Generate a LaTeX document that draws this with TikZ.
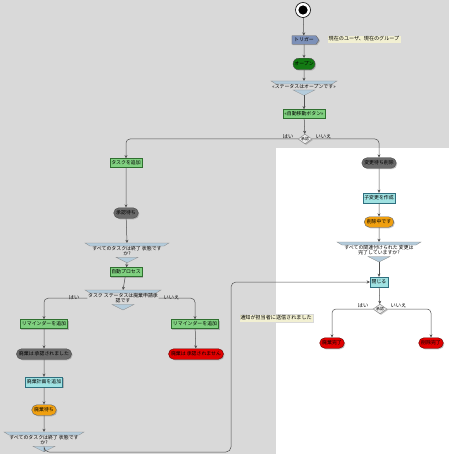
\documentclass[tikz,border=0pt]{standalone}
\usepackage{fontspec}
\setmainfont{Noto Sans CJK JP}
\usetikzlibrary{shapes.geometric,shapes.misc,shapes.symbols,shadows,arrows.meta,calc}
\definecolor{bggray}{HTML}{D9D9D9}
\definecolor{lnclr}{HTML}{505050}
\definecolor{grfill}{HTML}{80D080}
\definecolor{grline}{HTML}{2F6F2F}
\definecolor{cyfill}{HTML}{A0E2E2}
\definecolor{cyline}{HTML}{2F6F7F}
\definecolor{gyfill}{HTML}{6A6A6A}
\definecolor{orfill}{HTML}{F0A010}
\definecolor{rdfill}{HTML}{E00000}
\definecolor{dgfill}{HTML}{137A13}
\definecolor{mgfill}{HTML}{B4CCDC}
\definecolor{notefill}{HTML}{F2F0D2}
\definecolor{sigfill}{HTML}{7C90B8}
\tikzset{
  every node/.style={font=\fontsize{4.9}{5.4}\selectfont},
  shad/.style={drop shadow={shadow xshift=1pt,shadow yshift=-1pt,opacity=.45}},
  greenbox/.style={rectangle,fill=grfill,draw=grline,line width=.4pt,minimum height=9pt,inner sep=1.5pt,shad},
  cyanbox/.style={rectangle,fill=cyfill,draw=cyline,line width=.4pt,minimum height=10pt,inner sep=1.5pt,shad},
  rnd/.style={rounded rectangle,line width=.4pt,minimum height=10.5pt,inner sep=2pt,shad},
  grayrnd/.style={rnd,fill=gyfill,draw=black!70},
  orangernd/.style={rnd,fill=orfill,draw=black!60},
  redrnd/.style={rnd,fill=rdfill,draw=red!40!black},
  dgrnd/.style={rnd,fill=dgfill,draw=black!70,minimum width=26pt,minimum height=11.5pt},
  decis/.style={diamond,fill=white!92!black,draw=black!50,line width=.4pt,inner sep=0.3pt,aspect=1.4,font=\fontsize{3.8}{4}\selectfont,shad},
  mgtext/.style={align=center,inner sep=0.6pt},
  notebox/.style={rectangle,fill=notefill,draw=black!15,line width=.3pt,inner sep=1.6pt,font=\fontsize{5.1}{5.5}\selectfont},
  conn/.style={draw=lnclr,line width=.5pt,-{Stealth[length=3.2pt,width=3pt]}},
  lbl/.style={inner sep=0.5pt,font=\fontsize{5.2}{5.2}\selectfont}
}
\newcommand{\mergebox}[5]{%
  \fill[mgfill,draw=black!45,line width=.3pt] (#2-#4,#3) -- (#2+#4,#3) -- (#2+#4-5,#3+3) -- (#2-#4+5,#3+3) -- cycle;
  \node[mgtext,anchor=north] (#1) at (#2,#3+2.5) {#5};
  \fill[mgfill,draw=black!45,line width=.3pt] ($(#1.south)+(-11,0.5)$) -- ($(#1.south)+(11,0.5)$) -- ($(#1.south)+(0,6)$) -- cycle;
  \coordinate (#1-top) at (#2,#3);
  \coordinate (#1-bot) at ($(#1.south)+(0,6)$);
}
\begin{document}
\begin{tikzpicture}[x=1pt,y=-1pt]
\useasboundingbox (0,0) rectangle (449,454);
\fill[bggray] (0,0) rectangle (449,454);
\fill[white] (276,148) rectangle (449,454);

% start
\node[circle,draw=black,fill=white,line width=.6pt,minimum size=15pt,inner sep=0] (start) at (303,10) {};
\fill[black] (start.center) circle (4.6pt);

\node[signal,signal to=east,signal pointer angle=110,fill=sigfill,draw=black!60,line width=.4pt,minimum width=27pt,minimum height=8.5pt,inner sep=1pt,shad] (trig) at (304,40) {トリガー};
\node[notebox] (note1) at (364,39) {現在のユーザ、現在のグループ};
\node[dgrnd] (open) at (304,64) {オープン};
\mergebox{mg1}{304}{81}{33}{«ステータスはオープンです»}
\node[greenbox] (auto) at (304,114) {«自動移動ボタン»};
\node[decis] (dia1) at (305,139) {承認};
\node[lbl,anchor=south east] (yes1) at (294,139) {はい};
\node[lbl,anchor=south west] (no1) at (315,139) {いいえ};

% left column
\node[greenbox] (addtask) at (126,163) {タスクを追加};
\node[grayrnd] (wait1) at (126,213) {承認待ち};
\mergebox{mg2}{127}{243}{42}{すべてのタスクは終了 状態です\\か?}
\node[greenbox] (autop) at (126,272) {自動プロセス};
\mergebox{mg3}{123}{290}{38}{タスク ステータスは廃棄申請承\\認です}
\node[lbl,anchor=south east] (yes2) at (80,300) {はい};
\node[lbl,anchor=south west] (no2) at (163,300) {いいえ};
\node[greenbox] (rem1) at (44,324) {リマインダーを追加};
\node[greenbox] (rem2) at (195,324) {リマインダーを追加};
\node[grayrnd] (appr) at (44,354) {廃棄は 承認されました};
\node[redrnd] (rej) at (196,354) {廃棄は 承認されません};
\node[cyanbox] (plan) at (44,382) {廃棄計画を追加};
\node[orangernd] (wait2) at (44,410) {廃棄待ち};
\mergebox{mg4}{44}{432}{40}{すべてのタスクは終了 状態です\\か?}

% right column
\node[grayrnd] (del) at (379,163) {変更待ち削除};
\node[cyanbox] (child) at (379,198) {子変更を作成};
\node[orangernd] (deleting) at (379,222) {削除中です};
\mergebox{mg5}{379}{242}{42}{すべての関連付けられた 変更は\\完了していますか?}
\node[cyanbox] (close) at (379,282) {閉じる};
\node[decis] (dia2) at (380,309) {承認};
\node[lbl,anchor=south east] (yes3) at (369,308) {はい};
\node[lbl,anchor=south west] (no3) at (390,308) {いいえ};
\node[redrnd] (fin1) at (332,343) {廃棄完了};
\node[redrnd] (fin2) at (431,343) {削除完了};
\node[notebox] (note2) at (276,318) {通知が担当者に送信されました};

% connectors
\draw[conn] (start) -- (trig);
\draw[conn] (trig) -- (open);
\draw[conn] (open) -- (mg1-top);
\draw[conn] (mg1-bot) -- (auto);
\draw[conn] (auto) -- (dia1);
\draw[conn,rounded corners=4pt] (dia1.west) -| (addtask.north);
\draw[conn,rounded corners=4pt] (dia1.east) -| (del.north);
\draw[conn] (addtask) -- (wait1);
\draw[conn] (wait1) -- (mg2-top);
\draw[conn] (mg2-bot) -- (autop);
\draw[conn] (autop) -- (mg3-top);
\draw[conn,rounded corners=4pt] (mg3.west) -| (rem1.north);
\draw[conn,rounded corners=4pt] (mg3.east) -| (rem2.north);
\draw[conn] (rem1) -- (appr);
\draw[conn] (rem2) -- (rej);
\draw[conn] (appr) -- (plan);
\draw[conn] (plan) -- (wait2);
\draw[conn] (wait2) -- (mg4-top);
\coordinate (loopA) at (44,452);
\coordinate (loopB) at (231,452);
\coordinate (loopC) at (231,282);
\draw[conn,rounded corners=5pt] (mg4-bot) -- (loopA) -- (loopB) -- (loopC) -- (close.west);
\draw[conn] (del) -- (child);
\draw[conn] (child) -- (deleting);
\draw[conn] (deleting) -- (mg5-top);
\draw[conn] (mg5-bot) -- (close);
\draw[conn] (close) -- (dia2);
\draw[conn,rounded corners=4pt] (dia2.west) -| (fin1.north);
\draw[conn,rounded corners=4pt] (dia2.east) -| (fin2.north);
\end{tikzpicture}
\end{document}
